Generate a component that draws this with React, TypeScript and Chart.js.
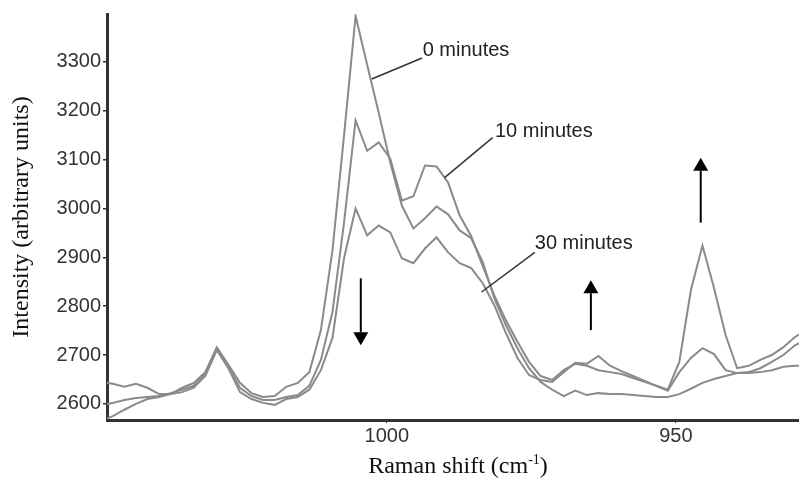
import React, { useEffect, useRef } from 'react';
import { Chart, registerables } from 'chart.js';

Chart.register(...registerables);

// Raman shift (cm-1), reversed axis
const wavenumbers = [
  1049.4, 1047.4, 1045.4, 1043.4, 1041.4, 1039.4, 1037.4, 1035.4, 1033.4, 1031.4,
  1029.4, 1027.4, 1025.4, 1023.4, 1021.4, 1019.4, 1017.4, 1015.4, 1013.4, 1011.4,
  1009.4, 1007.4, 1005.4, 1003.4, 1001.4, 999.4, 997.4, 995.4, 993.4, 991.4,
  989.4, 987.4, 985.4, 983.4, 981.4, 979.4, 977.4, 975.4, 973.4, 971.4,
  969.4, 967.4, 965.4, 963.4, 961.4, 959.4, 957.4, 955.4, 953.4, 951.4,
  949.4, 947.4, 945.4, 943.4, 941.4, 939.4, 937.4, 935.4, 933.4, 931.4,
  929.4, 927.4,
];

const minutes0 = [
  2645, 2641, 2635, 2641, 2633, 2620, 2620, 2633, 2643, 2665,
  2716, 2680, 2643, 2622, 2614, 2616, 2635, 2643, 2665, 2751,
  2914, 3149, 3394, 3294, 3196, 3094, 3006, 2959, 2980, 3004,
  2988, 2955, 2939, 2890, 2816, 2761, 2714, 2673, 2645, 2629,
  2616, 2627, 2618, 2622, 2620, 2620, 2618, 2616, 2614, 2614,
  2620, 2631, 2643, 2651, 2657, 2663, 2663, 2665, 2669, 2676,
  2678, 2678,
];

const minutes10 = [
  2598, 2602, 2608, 2612, 2614, 2616, 2622, 2629, 2637, 2661,
  2714, 2676, 2633, 2616, 2608, 2608, 2614, 2618, 2637, 2690,
  2788, 2971, 3180, 3118, 3135, 3102, 3016, 3025, 3088, 3086,
  3053, 2986, 2943, 2882, 2822, 2771, 2727, 2686, 2657, 2649,
  2669, 2682, 2678, 2669, 2665, 2661, 2653, 2645, 2637, 2627,
  2665, 2694, 2714, 2702, 2669, 2663, 2665, 2673, 2686, 2700,
  2720, 2731,
];

const minutes30 = [
  2565, 2575, 2588, 2600, 2610, 2614, 2620, 2624, 2633, 2657,
  2710, 2673, 2624, 2610, 2602, 2598, 2610, 2614, 2629, 2669,
  2735, 2898, 3000, 2945, 2965, 2951, 2898, 2888, 2918, 2941,
  2910, 2888, 2878, 2847, 2802, 2745, 2694, 2659, 2649, 2645,
  2665, 2684, 2682, 2698, 2678, 2667, 2657, 2647, 2637, 2629,
  2686, 2833, 2924, 2837, 2741, 2673, 2678, 2690, 2700, 2716,
  2737, 2751,
];

const seriesNames = ['0 minutes', '10 minutes', '30 minutes'];
const yTicks = [2600, 2700, 2800, 2900, 3000, 3100, 3200, 3300];
const xTicks = [1000, 950];

// annotation anchors in data units
const labelX = [993.8, 981.3, 974.4];
const labelY = [3323, 3158, 2928];
const leaderFromX = [1002.6, 990.0, 983.6];
const leaderFromY = [3265, 3063, 2829];
const leaderToX = [993.9, 981.7, 974.4];
const leaderToY = [3308, 3145, 2910];
const arrowX = [1004.5, 964.7, 945.7];
const arrowFrom = [2857, 2751, 2971];
const arrowTip = [2720, 2853, 3104];

const SANS = '"Liberation Sans", Arial, sans-serif';
const SERIF = '"Liberation Serif", "Times New Roman", serif';

const overlayPlugin = {
  id: 'overlay',
  afterDraw(chart: any) {
    const { ctx, chartArea } = chart;
    const xs = chart.scales.x;
    const ys = chart.scales.y;
    const px = (v: number) => xs.getPixelForValue(v);
    const py = (v: number) => ys.getPixelForValue(v);
    ctx.save();

    // leader lines
    ctx.strokeStyle = '#333';
    ctx.lineWidth = 1.5;
    for (let i = 0; i < seriesNames.length; i++) {
      ctx.beginPath();
      ctx.moveTo(px(leaderFromX[i]), py(leaderFromY[i]));
      ctx.lineTo(px(leaderToX[i]), py(leaderToY[i]));
      ctx.stroke();
    }

    // labels
    ctx.fillStyle = '#222';
    ctx.font = '20px ' + SANS;
    ctx.textAlign = 'left';
    ctx.textBaseline = 'middle';
    for (let i = 0; i < seriesNames.length; i++) {
      ctx.fillText(seriesNames[i], px(labelX[i]), py(labelY[i]));
    }

    // arrows
    ctx.strokeStyle = '#000';
    ctx.fillStyle = '#000';
    ctx.lineWidth = 2;
    const headLen = 13;
    const halfW = 7.5;
    for (let i = 0; i < arrowX.length; i++) {
      const x = px(arrowX[i]);
      const y0 = py(arrowFrom[i]);
      const y1 = py(arrowTip[i]);
      const dir = y1 > y0 ? 1 : -1;
      const base = y1 - dir * headLen;
      ctx.beginPath();
      ctx.moveTo(x, y0);
      ctx.lineTo(x, base);
      ctx.stroke();
      ctx.beginPath();
      ctx.moveTo(x - halfW, base);
      ctx.lineTo(x + halfW, base);
      ctx.lineTo(x, y1);
      ctx.closePath();
      ctx.fill();
    }

    // axis titles
    ctx.fillStyle = '#111';
    ctx.font = '24px ' + SERIF;
    ctx.textAlign = 'center';
    ctx.textBaseline = 'middle';
    ctx.save();
    ctx.translate(22, (chartArea.top + chartArea.bottom) / 2);
    ctx.rotate(-Math.PI / 2);
    ctx.fillText('Intensity (arbitrary units)', 0, 0);
    ctx.restore();

    const part1 = 'Raman shift (cm';
    const sup = '-1';
    const part3 = ')';
    ctx.textAlign = 'left';
    ctx.textBaseline = 'alphabetic';
    ctx.font = '24px ' + SERIF;
    const w1 = ctx.measureText(part1).width;
    const w3 = ctx.measureText(part3).width;
    ctx.font = '14px ' + SERIF;
    const w2 = ctx.measureText(sup).width;
    const total = w1 + w2 + w3;
    const cx = (chartArea.left + chartArea.right) / 2 + 5;
    const baseY = 473;
    let sx = cx - total / 2;
    ctx.font = '24px ' + SERIF;
    ctx.fillText(part1, sx, baseY);
    sx += w1;
    ctx.font = '14px ' + SERIF;
    ctx.fillText(sup, sx, baseY - 9);
    sx += w2;
    ctx.font = '24px ' + SERIF;
    ctx.fillText(part3, sx, baseY);

    ctx.restore();
  },
};

export default function App() {
  const ref = useRef<HTMLCanvasElement>(null);

  useEffect(() => {
    const series = [minutes0, minutes10, minutes30];
    const chart = new Chart(ref.current as HTMLCanvasElement, {
      type: 'line',
      data: {
        datasets: series.map((vals, i) => ({
          label: seriesNames[i],
          data: wavenumbers.map((w, j) => ({ x: w, y: vals[j] })),
          borderColor: '#8a8a8a',
          borderWidth: 2,
          pointRadius: 0,
          tension: 0,
          fill: false,
        })),
      },
      options: {
        responsive: false,
        animation: false,
        devicePixelRatio: 1,
        layout: { padding: { top: 13, left: 0, right: 0, bottom: 0 } },
        plugins: {
          legend: { display: false },
          tooltip: { enabled: false },
        },
        scales: {
          x: {
            type: 'linear',
            reverse: true,
            min: 928.7,
            max: 1048.4,
            afterBuildTicks: (s: any) => {
              s.ticks = xTicks.map((v) => ({ value: v }));
            },
            afterFit: (s: any) => {
              s.height = 61;
            },
            ticks: {
              autoSkip: false,
              maxRotation: 0,
              padding: 1,
              color: '#333',
              font: { family: SANS, size: 20 },
              callback: (v: any) => String(v),
            },
            grid: {
              display: true,
              drawOnChartArea: false,
              drawTicks: true,
              tickLength: 3,
              color: '#333',
              lineWidth: 1,
            },
            border: { display: true, color: '#333', width: 3 },
          },
          y: {
            type: 'linear',
            min: 2567,
            max: 3398,
            afterBuildTicks: (s: any) => {
              s.ticks = yTicks.map((v) => ({ value: v }));
            },
            afterFit: (s: any) => {
              s.width = 107;
            },
            ticks: {
              padding: 2,
              color: '#333',
              font: { family: SANS, size: 20 },
              callback: (v: any) => String(v),
            },
            grid: {
              display: true,
              drawOnChartArea: false,
              drawTicks: true,
              tickLength: 4,
              color: '#333',
              lineWidth: 1.5,
            },
            border: { display: true, color: '#333', width: 3 },
          },
        },
      } as any,
      plugins: [overlayPlugin],
    });
    return () => chart.destroy();
  }, []);

  return (
    <div
      style={{
        position: 'absolute',
        left: 0,
        top: 0,
        width: 799,
        height: 481,
        background: '#fff',
      }}
    >
      <canvas
        ref={ref}
        width={799}
        height={481}
        style={{ display: 'block', width: 799, height: 481 }}
      />
    </div>
  );
}
